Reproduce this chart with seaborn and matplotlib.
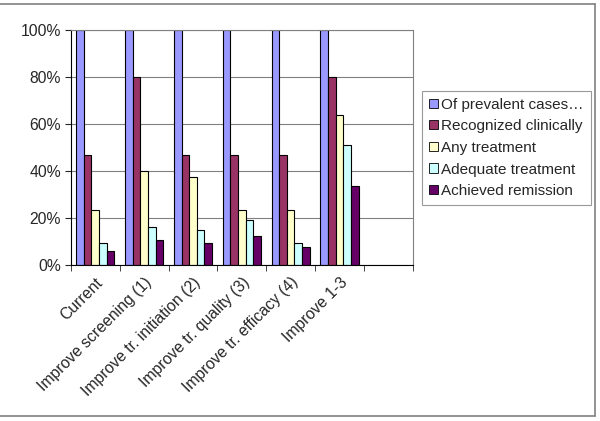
import numpy as np
import pandas as pd
import seaborn as sns
import matplotlib.pyplot as plt
from matplotlib.lines import Line2D

# data (percent)
scenarios = ["Current", "Improve screening (1)", "Improve tr. initiation (2)",
             "Improve tr. quality (3)", "Improve tr. efficacy (4)", "Improve 1-3"]
series = ["Of prevalent cases…", "Recognized clinically", "Any treatment",
          "Adequate treatment", "Achieved remission"]
prevalent = [100, 100, 100, 100, 100, 100]
recognized = [47, 80, 47, 47, 47, 80]
any_treatment = [23.5, 40, 37.5, 23.5, 23.5, 64]
adequate = [9.5, 16, 15, 19, 9.5, 51]
remission = [6, 10.5, 9.5, 12.5, 7.5, 33.5]
colors = ["#9999FF", "#993366", "#FFFFCC", "#CCFFFF", "#660066"]

df = pd.DataFrame({"Scenario": scenarios, series[0]: prevalent, series[1]: recognized,
                   series[2]: any_treatment, series[3]: adequate, series[4]: remission})
long = df.melt(id_vars="Scenario", var_name="Series", value_name="Value")

sns.set_style("white")
plt.rcParams["font.family"] = ["Liberation Sans", "DejaVu Sans"]
fs = 11.3

fig = plt.figure(figsize=(6, 4.21), dpi=100)
ax = fig.add_axes([0.118, 0.3705, 0.570, 0.558])

sns.barplot(data=long, x="Scenario", y="Value", hue="Series", order=scenarios,
            hue_order=series, palette=colors, width=0.78, edgecolor="black",
            linewidth=0.8, saturation=1, errorbar=None, ax=ax)

ax.set_xlim(-0.5, 6.5)
ax.set_ylim(0, 100)
ax.set_yticks(np.arange(0, 101, 20))
ax.set_yticklabels([f"{v}%" for v in range(0, 101, 20)], fontsize=fs)
ax.yaxis.grid(True, color="#808080", linewidth=0.8)
ax.set_axisbelow(True)
ax.tick_params(axis="y", length=4, direction="out", left=True, pad=3)

ax.set_xticks(range(len(scenarios)))
ax.set_xticklabels(scenarios, rotation=45, ha="right", rotation_mode="anchor", fontsize=fs)
ax.tick_params(axis="x", which="major", length=0, pad=7)
ax.set_xticks(np.arange(-0.5, 7, 1), minor=True)
ax.tick_params(axis="x", which="minor", length=4, direction="out", bottom=True)
ax.set_xlabel("")
ax.set_ylabel("")

for s in ["top", "right"]:
    ax.spines[s].set_color("#808080")
    ax.spines[s].set_linewidth(0.8)
for s in ["left", "bottom"]:
    ax.spines[s].set_color("black")
    ax.spines[s].set_linewidth(0.8)

leg = ax.legend(loc="upper left", bbox_to_anchor=(1.028, 0.742), frameon=True,
                fancybox=False, edgecolor="#808080", fontsize=11,
                handlelength=0.55, handleheight=0.55, handletextpad=0.25,
                labelspacing=0.5, borderpad=0.45, borderaxespad=0)
leg.get_frame().set_linewidth(0.8)
for h in leg.legend_handles:
    h.set_edgecolor("black")
    h.set_linewidth(0.6)

# outer chart border (top, right, bottom)
border = dict(transform=fig.transFigure, color="#808080", linewidth=1.2)
fig.lines.append(Line2D([0, 0.992], [0.990, 0.990], **border))
fig.lines.append(Line2D([0.992, 0.992], [0.012, 0.990], **border))
fig.lines.append(Line2D([0, 0.992], [0.012, 0.012], **border))

fig.savefig("out.png", dpi=100)
